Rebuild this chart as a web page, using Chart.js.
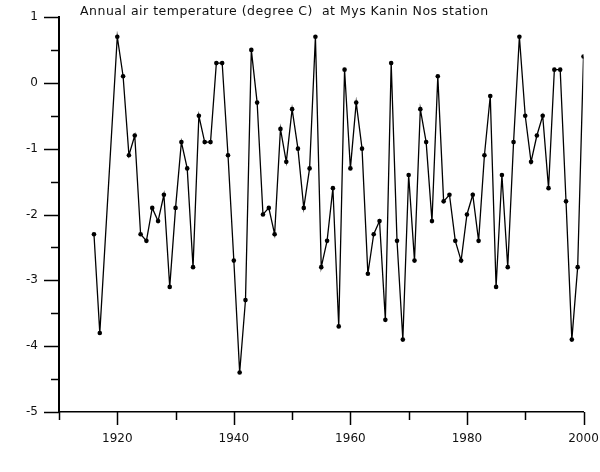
<!DOCTYPE html>
<html><head><meta charset="utf-8">
<script src="https://cdn.jsdelivr.net/npm/chart.js@4/dist/chart.umd.min.js"></script>
<style>html,body{margin:0;padding:0;background:#fff}#wrap{width:600px;height:472px}</style>
</head><body><div id="wrap"><canvas id="c" width="600" height="472"></canvas></div>
<script>
const titleText = "Annual air temperature (degree C)  at Mys Kanin Nos station";
const years = [1916,1917,
  1920,1921,1922,1923,1924,1925,1926,1927,1928,1929,
  1930,1931,1932,1933,1934,1935,1936,1937,1938,1939,
  1940,1941,1942,1943,1944,1945,1946,1947,1948,1949,
  1950,1951,1952,1953,1954,1955,1956,1957,1958,1959,
  1960,1961,1962,1963,1964,1965,1966,1967,1968,1969,
  1970,1971,1972,1973,1974,1975,1976,1977,1978,1979,
  1980,1981,1982,1983,1984,1985,1986,1987,1988,1989,
  1990,1991,1992,1993,1994,1995,1996,1997,1998,1999,
  2000];
const temps = [-2.3,-3.8,
  0.7,0.1,-1.1,-0.8,-2.3,-2.4,-1.9,-2.1,-1.7,-3.1,
  -1.9,-0.9,-1.3,-2.8,-0.5,-0.9,-0.9,0.3,0.3,-1.1,
  -2.7,-4.4,-3.3,0.5,-0.3,-2.0,-1.9,-2.3,-0.7,-1.2,
  -0.4,-1.0,-1.9,-1.3,0.7,-2.8,-2.4,-1.6,-3.7,0.2,
  -1.3,-0.3,-1.0,-2.9,-2.3,-2.1,-3.6,0.3,-2.4,-3.9,
  -1.4,-2.7,-0.4,-0.9,-2.1,0.1,-1.8,-1.7,-2.4,-2.7,
  -2.0,-1.7,-2.4,-1.1,-0.2,-3.1,-1.4,-2.8,-0.9,0.7,
  -0.5,-1.2,-0.8,-0.5,-1.6,0.2,0.2,-1.8,-3.9,-2.8,
  0.4];
const xTickLabels = [1920,1940,1960,1980,2000];
const yTickLabels = [1,0,-1,-2,-3,-4,-5];

const FONT = '"DejaVu Sans", Verdana, sans-serif';

const tickPlugin = {
  id: 'ticksAndTitle',
  afterDraw(chart) {
    const ctx = chart.ctx;
    const xs = chart.scales.x, ys = chart.scales.y;
    ctx.save();
    ctx.strokeStyle = '#000';
    ctx.lineWidth = 1.5;
    xs.ticks.forEach(t => {
      const px = Math.round(xs.getPixelForValue(t.value)) + 0.5;
      const len = xTickLabels.includes(t.value) ? 13 : 8;
      ctx.beginPath();
      ctx.moveTo(px, xs.top);
      ctx.lineTo(px, xs.top + len);
      ctx.stroke();
    });
    ys.ticks.forEach(t => {
      const py = Math.round(ys.getPixelForValue(t.value)) + 0.5;
      const len = yTickLabels.includes(t.value) ? 15 : 8;
      ctx.beginPath();
      ctx.moveTo(ys.right - len, py);
      ctx.lineTo(ys.right, py);
      ctx.stroke();
    });
    ctx.fillStyle = '#111';
    ctx.font = '12.5px ' + FONT;
    if ('letterSpacing' in ctx) ctx.letterSpacing = '0.5px';
    ctx.textBaseline = 'alphabetic';
    ctx.textAlign = 'left';
    ctx.fillText(titleText, 80, 15);
    ctx.restore();
  }
};

new Chart(document.getElementById('c'), {
  type: 'line',
  data: {
    datasets: [{
      data: years.map((yr, i) => ({x: yr, y: temps[i]})),
      borderColor: '#000',
      borderWidth: 1.3,
      pointRadius: 2.3,
      pointBackgroundColor: '#000',
      pointBorderWidth: 0,
      tension: 0,
      fill: false
    }]
  },
  options: {
    responsive: false,
    animation: false,
    layout: {padding: {top: 17, right: 16.5, left: 0, bottom: 0}},
    plugins: {legend: {display: false}, tooltip: {enabled: false}, title: {display: false}},
    scales: {
      x: {
        type: 'linear', min: 1910, max: 2000,
        grid: {display: false, drawTicks: false},
        border: {display: true, color: '#000', width: 1.5},
        ticks: {
          stepSize: 10, autoSkip: false, maxRotation: 0, padding: 20,
          color: '#111', font: {family: FONT, size: 12},
          callback: v => xTickLabels.includes(v) ? String(v) : ''
        },
        afterFit: s => { s.height = 60; s.paddingLeft = 0; s.paddingRight = 0; }
      },
      y: {
        type: 'linear', min: -5, max: 1,
        grid: {display: false, drawTicks: false},
        border: {display: true, color: '#000', width: 2},
        ticks: {
          stepSize: 0.5, autoSkip: false, padding: 21,
          color: '#111', font: {family: FONT, size: 12},
          callback: v => yTickLabels.includes(v) ? String(v) : ''
        },
        afterFit: s => { s.width = 59; s.paddingTop = 0; s.paddingBottom = 0; }
      }
    }
  },
  plugins: [tickPlugin]
});
</script>
</body></html>
